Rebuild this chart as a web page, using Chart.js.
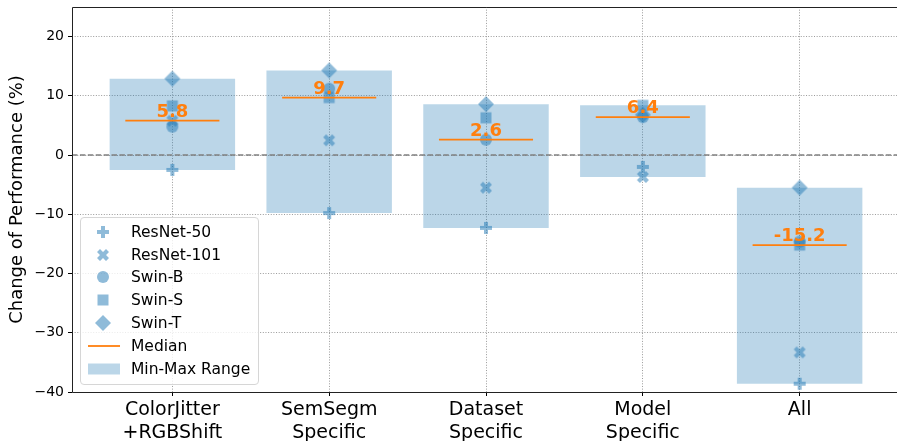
<!DOCTYPE html>
<html>
<head>
<meta charset="utf-8">
<script src="https://cdn.jsdelivr.net/npm/chart.js@4.4.1/dist/chart.umd.min.js"></script>
<style>
    html, body { margin: 0; padding: 0; background: #fff; overflow: hidden; }
    #wrap { position: relative; width: 907px; height: 441px; }
    #legend {
        position: absolute; left: 80px; top: 217px; width: 177px; height: 166px;
        border: 1px solid #d6d6d6; border-radius: 4px; background: rgba(255,255,255,0.8);
        font-family: "DejaVu Sans", sans-serif; font-size: 15.5px; color: #000;
    }
    .row { position: absolute; left: 0; height: 20px; width: 177px; }
    .row canvas { position: absolute; left: 2px; top: 0; }
    .row span { position: absolute; left: 50px; top: 0; line-height: 20px; white-space: nowrap; }
</style>
</head>
<body>
<div id="wrap">
    <canvas id="chart"></canvas>
    <div id="legend"></div>
</div>
<script>
const categories = [['ColorJitter', '+RGBShift'], ['SemSegm', 'Specific'], ['Dataset', 'Specific'], ['Model', 'Specific'], ['All']];
const resnet50 = [-2.5, -9.8, -12.3, -2.0, -38.6];
const resnet101 = [5.8, 2.5, -5.5, -3.7, -33.3];
const swinB = [4.8, 11.2, 2.6, 6.4, -14.6];
const swinS = [8.3, 9.7, 6.3, 8.4, -15.2];
const swinT = [12.9, 14.3, 8.6, 6.8, -5.5];
const medians = [5.8, 9.7, 2.6, 6.4, -15.2];
const yTicks = [-40, -30, -20, -10, 0, 10, 20];

const blue = 'rgba(31,119,180,0.5)';
const rangeBlue = 'rgba(31,119,180,0.3)';
const orange = '#ff7f0e';

const plusPts = [[1/3,0],[2/3,0],[2/3,1/3],[1,1/3],[1,2/3],[2/3,2/3],[2/3,1],[1/3,1],[1/3,2/3],[0,2/3],[0,1/3],[1/3,1/3]];
const xPts = [[0.25,0],[0.5,0.25],[0.75,0],[1,0.25],[0.75,0.5],[1,0.75],[0.75,1],[0.5,0.75],[0.25,1],[0,0.75],[0.25,0.5],[0,0.25]];

function makeMarker(kind) {
    const c = document.createElement('canvas');
    c.width = 20; c.height = 20;
    const g = c.getContext('2d');
    g.translate(10, 10);
    g.fillStyle = blue;
    g.beginPath();
    if (kind === 'circle') {
        g.arc(0, 0, 6, 0, Math.PI * 2);
    } else if (kind === 'square') {
        g.rect(-5.5, -5.5, 11, 11);
    } else if (kind === 'diamond') {
        g.moveTo(0, -8); g.lineTo(8, 0); g.lineTo(0, 8); g.lineTo(-8, 0); g.closePath();
    } else {
        const pts = kind === 'plus' ? plusPts : xPts;
        pts.forEach(function(p, i) {
            const px = (p[0] - 0.5) * 12, py = (p[1] - 0.5) * 12;
            if (i === 0) g.moveTo(px, py); else g.lineTo(px, py);
        });
        g.closePath();
    }
    g.fill();
    return c;
}

const series = [
    { label: 'ResNet-50', values: resnet50, marker: makeMarker('plus') },
    { label: 'ResNet-101', values: resnet101, marker: makeMarker('x') },
    { label: 'Swin-B', values: swinB, marker: makeMarker('circle') },
    { label: 'Swin-S', values: swinS, marker: makeMarker('square') },
    { label: 'Swin-T', values: swinT, marker: makeMarker('diamond') }
];

const ranges = categories.map(function(_, i) {
    const vals = series.map(function(s) { return s.values[i]; });
    return { x: i, y: [Math.min.apply(null, vals), Math.max.apply(null, vals)] };
});

const datasets = [{
    type: 'bar',
    label: 'Min-Max Range',
    data: ranges,
    backgroundColor: rangeBlue,
    borderWidth: 0,
    barPercentage: 0.8,
    categoryPercentage: 1.0,
    order: 10
}];
series.forEach(function(s, k) {
    datasets.push({
        type: 'scatter',
        label: s.label,
        data: s.values.map(function(v, i) { return { x: i, y: v }; }),
        pointStyle: s.marker,
        pointRadius: 6,
        order: 5 - k
    });
});

const overlay = {
    id: 'overlay',
    afterDatasetsDraw(chart) {
        const ctx = chart.ctx;
        const xs = chart.scales.x, ys = chart.scales.y;
        const area = chart.chartArea;
        ctx.save();
        // zero line
        ctx.strokeStyle = '#808080';
        ctx.lineWidth = 1.5;
        ctx.setLineDash([5.5, 2.4]);
        const y0 = ys.getPixelForValue(0);
        ctx.beginPath(); ctx.moveTo(area.left, y0); ctx.lineTo(area.right, y0); ctx.stroke();
        ctx.setLineDash([]);
        // medians
        medians.forEach(function(m, i) {
            const y = ys.getPixelForValue(m);
            ctx.strokeStyle = orange;
            ctx.lineWidth = 1.8;
            ctx.beginPath();
            ctx.moveTo(xs.getPixelForValue(i - 0.3), y);
            ctx.lineTo(xs.getPixelForValue(i + 0.3), y);
            ctx.stroke();
            ctx.fillStyle = orange;
            ctx.font = 'bold 18px "DejaVu Sans"';
            ctx.textAlign = 'center';
            ctx.textBaseline = 'alphabetic';
            ctx.fillText(m.toFixed(1), xs.getPixelForValue(i), y - 4);
        });
        ctx.restore();
    },
    afterDraw(chart) {
        // spines: left, top, bottom (right one falls outside the window)
        const a = chart.chartArea, ctx = chart.ctx;
        const l = Math.round(a.left) + 0.5, t = Math.round(a.top) + 0.5, b = Math.round(a.bottom) + 0.5;
        ctx.save();
        ctx.strokeStyle = '#222';
        ctx.lineWidth = 1;
        ctx.beginPath();
        ctx.moveTo(a.right + 1, t); ctx.lineTo(l, t); ctx.lineTo(l, b); ctx.lineTo(a.right + 1, b);
        ctx.stroke();
        ctx.restore();
    }
};

new Chart(document.getElementById('chart'), {
    type: 'bar',
    data: { datasets: datasets },
    options: {
        responsive: true,
        maintainAspectRatio: false,
        animation: false,
        layout: { padding: { top: 7, left: 0, right: 0, bottom: 0 } },
        plugins: { legend: { display: false }, tooltip: { enabled: false } },
        scales: {
            x: {
                type: 'linear',
                min: -0.64,
                max: 4.64,
                offset: false,
                afterBuildTicks: function(axis) {
                    axis.ticks = categories.map(function(_, i) { return { value: i }; });
                },
                afterFit: function(scale) {
                    scale.height = 49;
                    scale.paddingLeft = 0; scale.paddingRight = 0;
                },
                ticks: {
                    color: '#000',
                    padding: 3,
                    font: { family: 'DejaVu Sans', size: 19 },
                    callback: function(v) { return categories[v]; }
                },
                grid: { offset: false, color: '#9a9a9a', lineWidth: 1, tickColor: '#000', tickLength: 4, tickBorderDash: [] },
                border: { display: false, dash: [1, 1.65] }
            },
            y: {
                min: -40,
                max: 25,
                afterBuildTicks: function(axis) {
                    axis.ticks = yTicks.map(function(v) { return { value: v }; });
                },
                afterFit: function(scale) {
                    scale.width = 72;
                    scale.paddingTop = 0; scale.paddingBottom = 0;
                },
                title: {
                    display: true,
                    text: 'Change of Performance (%)',
                    color: '#000',
                    font: { family: 'DejaVu Sans', size: 18 },
                    padding: { top: 7, bottom: 0 }
                },
                ticks: {
                    color: '#000',
                    padding: 4,
                    font: { family: 'DejaVu Sans', size: 14 },
                    callback: function(v) { return v < 0 ? '\u2212' + Math.abs(v) : String(v); }
                },
                grid: { color: '#9a9a9a', lineWidth: 1, tickColor: '#000', tickLength: 4, tickBorderDash: [] },
                border: { display: false, dash: [1, 1.65] }
            }
        }
    },
    plugins: [overlay]
});

// legend
const legend = document.getElementById('legend');
const items = series.map(function(s) { return { label: s.label, draw: function(g) { g.drawImage(s.marker, 10, 0); } }; });
items.push({ label: 'Median', draw: function(g) {
    g.strokeStyle = orange; g.lineWidth = 1.8;
    g.beginPath(); g.moveTo(5, 10); g.lineTo(37, 10); g.stroke();
} });
items.push({ label: 'Min-Max Range', draw: function(g) {
    g.fillStyle = rangeBlue; g.fillRect(5, 4.5, 32, 11);
} });
items.forEach(function(it, i) {
    const row = document.createElement('div');
    row.className = 'row';
    row.style.top = (3.7 + 22.8 * i) + 'px';
    const c = document.createElement('canvas');
    c.width = 40; c.height = 20;
    it.draw(c.getContext('2d'));
    const span = document.createElement('span');
    span.textContent = it.label;
    row.appendChild(c);
    row.appendChild(span);
    legend.appendChild(row);
});
</script>
</body>
</html>
